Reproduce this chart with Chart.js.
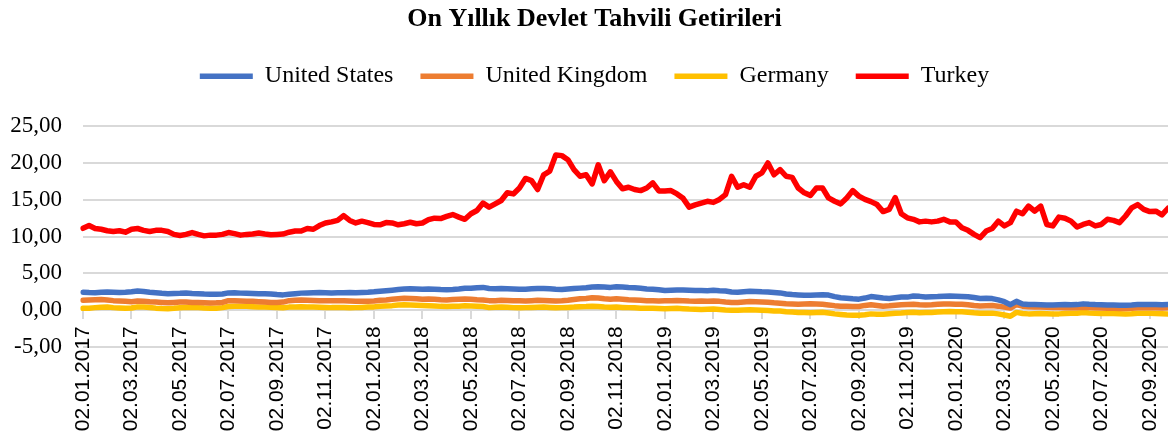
<!DOCTYPE html>
<html>
<head>
<meta charset="utf-8">
<script src="https://cdn.jsdelivr.net/npm/chart.js@4/dist/chart.umd.min.js"></script>
<style>
  body { margin: 0; background: #fff; }
  #wrap { width: 1168px; height: 439px; }
</style>
</head>
<body>
<div id="wrap"><canvas id="yields"></canvas></div>
<script>
// sample dates: 4 per month, Jan 2017 - Sep 2020
const years = ['2017', '2018', '2019', '2020'];
const months = ['01','02','03','04','05','06','07','08','09','10','11','12'];
const days = ['02', '09', '16', '23'];

const tickLabels = [
  '02.01.2017','02.03.2017','02.05.2017','02.07.2017','02.09.2017','02.11.2017',
  '02.01.2018','02.03.2018','02.05.2018','02.07.2018','02.09.2018','02.11.2018',
  '02.01.2019','02.03.2019','02.05.2019','02.07.2019','02.09.2019','02.11.2019',
  '02.01.2020','02.03.2020','02.05.2020','02.07.2020','02.09.2020'
];

const unitedStates = [
  2.45,2.40,2.38,2.45, 2.48,2.45,2.42,2.45, 2.50,2.60,2.55,2.45, 2.38,2.30,2.25,2.28,
  2.30,2.35,2.28,2.25, 2.20,2.18,2.18,2.20, 2.35,2.38,2.32,2.30, 2.28,2.25,2.22,2.20,
  2.12,2.08,2.18,2.25, 2.32,2.35,2.38,2.40, 2.38,2.35,2.36,2.38, 2.40,2.38,2.42,2.45,
  2.50,2.58,2.65,2.72, 2.80,2.88,2.90,2.88, 2.86,2.88,2.85,2.80, 2.78,2.82,2.88,2.98,
  2.98,3.05,3.10,2.95, 2.92,2.95,2.92,2.88, 2.85,2.86,2.90,2.95, 2.95,2.90,2.85,2.82,
  2.88,2.95,3.00,3.05, 3.15,3.18,3.15,3.10, 3.18,3.15,3.08,3.05, 2.98,2.88,2.85,2.78,
  2.68,2.72,2.75,2.75, 2.72,2.68,2.68,2.65, 2.72,2.65,2.60,2.48, 2.45,2.52,2.58,2.55,
  2.50,2.48,2.42,2.35, 2.20,2.12,2.08,2.02, 2.02,2.08,2.10,2.05, 1.85,1.70,1.62,1.55,
  1.50,1.65,1.85,1.75, 1.65,1.60,1.70,1.80, 1.78,1.92,1.88,1.80, 1.82,1.85,1.90,1.92,
  1.88,1.85,1.82,1.72, 1.60,1.62,1.58,1.40, 1.15,0.75,1.20,0.85, 0.78,0.76,0.74,0.72,
  0.72,0.74,0.76,0.74, 0.76,0.86,0.80,0.76, 0.74,0.72,0.70,0.68, 0.66,0.70,0.76,0.78,
  0.76,0.76,0.74,0.76
];

const unitedKingdom = [
  1.35,1.38,1.42,1.45, 1.40,1.30,1.25,1.20, 1.15,1.25,1.22,1.15, 1.10,1.05,1.00,1.05,
  1.10,1.12,1.05,1.05, 1.02,0.98,1.00,1.05, 1.30,1.28,1.25,1.22, 1.20,1.15,1.10,1.05,
  1.05,1.10,1.30,1.35, 1.38,1.35,1.32,1.30, 1.30,1.28,1.30,1.28, 1.25,1.22,1.20,1.22,
  1.25,1.35,1.40,1.48, 1.55,1.62,1.60,1.55, 1.50,1.52,1.48,1.42, 1.40,1.45,1.48,1.52,
  1.48,1.42,1.40,1.30, 1.30,1.35,1.32,1.30, 1.28,1.25,1.30,1.35, 1.32,1.28,1.25,1.28,
  1.35,1.45,1.55,1.60, 1.70,1.65,1.55,1.50, 1.55,1.50,1.42,1.38, 1.35,1.30,1.28,1.25,
  1.28,1.30,1.32,1.30, 1.25,1.22,1.25,1.22, 1.25,1.20,1.10,1.05, 1.05,1.12,1.18,1.15,
  1.12,1.08,1.00,0.95, 0.88,0.85,0.82,0.85, 0.88,0.85,0.80,0.72, 0.62,0.55,0.52,0.50,
  0.50,0.65,0.75,0.65, 0.55,0.60,0.68,0.75, 0.78,0.80,0.75,0.72, 0.75,0.80,0.85,0.85,
  0.82,0.80,0.75,0.65, 0.58,0.62,0.65,0.55, 0.42,0.30,0.75,0.55, 0.48,0.45,0.42,0.40,
  0.38,0.36,0.34,0.32, 0.32,0.40,0.35,0.32, 0.30,0.28,0.26,0.24, 0.22,0.26,0.34,0.36,
  0.34,0.32,0.30,0.32
];

const germany = [
  0.25,0.28,0.35,0.40, 0.42,0.35,0.30,0.25, 0.30,0.45,0.42,0.38, 0.28,0.22,0.20,0.25,
  0.32,0.40,0.38,0.35, 0.30,0.28,0.28,0.35, 0.50,0.55,0.55,0.52, 0.48,0.45,0.42,0.40,
  0.35,0.32,0.42,0.45, 0.48,0.45,0.42,0.40, 0.38,0.35,0.37,0.36, 0.32,0.35,0.38,0.42,
  0.45,0.55,0.58,0.62, 0.72,0.75,0.72,0.68, 0.65,0.62,0.58,0.52, 0.50,0.52,0.55,0.60,
  0.58,0.55,0.50,0.35, 0.40,0.45,0.40,0.35, 0.32,0.35,0.38,0.40, 0.42,0.38,0.32,0.35,
  0.38,0.42,0.48,0.50, 0.55,0.50,0.42,0.40, 0.42,0.38,0.35,0.32, 0.28,0.25,0.25,0.22,
  0.20,0.22,0.25,0.20, 0.15,0.12,0.10,0.12, 0.15,0.08,0.02,-0.02, -0.02,0.02,0.05,0.02,
  0.00,-0.05,-0.10,-0.12, -0.22,-0.25,-0.30,-0.32, -0.35,-0.30,-0.28,-0.38, -0.50,-0.58,-0.65,-0.68,
  -0.68,-0.62,-0.50,-0.55, -0.55,-0.48,-0.40,-0.38, -0.30,-0.28,-0.35,-0.32, -0.30,-0.25,-0.22,-0.18,
  -0.20,-0.22,-0.28,-0.35, -0.40,-0.42,-0.40,-0.50, -0.65,-0.82,-0.30,-0.45, -0.50,-0.48,-0.45,-0.48,
  -0.52,-0.50,-0.45,-0.42, -0.40,-0.32,-0.38,-0.42, -0.45,-0.45,-0.45,-0.48, -0.50,-0.48,-0.42,-0.40,
  -0.42,-0.45,-0.48,-0.50
];

const turkey = [
  11.13,11.50,11.10,11.00, 10.80,10.70,10.80,10.60, 11.00,11.10,10.85,10.70, 10.85,10.85,10.70,10.30,
  10.15,10.30,10.55,10.30, 10.10,10.20,10.20,10.30, 10.55,10.40,10.20,10.30, 10.35,10.50,10.35,10.25,
  10.30,10.35,10.60,10.75, 10.75,11.10,11.00,11.50, 11.85,12.00,12.20,12.85, 12.20,11.85,12.10,11.90,
  11.65,11.60,11.90,11.85, 11.60,11.75,11.95,11.75, 11.85,12.30,12.50,12.45, 12.75,13.00,12.65,12.35,
  13.10,13.55,14.55,14.00, 14.45,14.90,15.95,15.80, 16.60,17.90,17.60,16.40, 18.40,18.90,21.10,21.00,
  20.45,19.10,18.20,18.40, 17.15,19.75,17.60,18.80, 17.50,16.50,16.70,16.40, 16.25,16.60,17.30,16.20,
  16.20,16.25,15.80,15.20, 14.00,14.30,14.55,14.80, 14.65,15.05,15.70,18.20, 16.70,17.05,16.70,18.20,
  18.65,20.00,18.40,19.10, 18.20,18.05,16.60,15.95, 15.60,16.60,16.60,15.25, 14.80,14.45,15.25,16.25,
  15.50,15.05,14.75,14.35, 13.40,13.70,15.30,13.10, 12.55,12.35,12.00,12.10, 12.00,12.10,12.35,12.00,
  12.00,11.20,10.85,10.30, 9.85,10.75,11.10,12.10, 11.45,11.90,13.45,13.10, 14.15,13.45,14.15,11.65,
  11.45,12.65,12.50,12.10, 11.30,11.65,11.90,11.45, 11.65,12.35,12.20,11.90, 12.80,13.90,14.35,13.70,
  13.40,13.45,12.95,13.85
];

const categories = [];
years.forEach(y => months.forEach(m => days.forEach(d => categories.push(d + '.' + m + '.' + y))));
categories.length = turkey.length; // data stops in late Sep 2020

function keepLabelTicks(scale) {
  scale.ticks = scale.ticks.filter(t => tickLabels.includes(categories[t.value]));
}

// extra room under the legend, and title/legend nudged right like the original
const legendGap = {
  id: 'legendGap',
  beforeInit(chart) {
    const fit = chart.legend.fit;
    chart.legend.fit = function () {
      fit.bind(chart.legend)();
      this.height += 28;
    };
  },
  afterLayout(chart) {
    chart.titleBlock.left += 18;
    chart.legend.left += 18;
  }
};

const serif = 'Liberation Serif';

const data = {
  labels: categories,
  datasets: [
    { label: 'United States', data: unitedStates, borderColor: '#4472C4', backgroundColor: '#4472C4' },
    { label: 'United Kingdom', data: unitedKingdom, borderColor: '#ED7D31', backgroundColor: '#ED7D31' },
    { label: 'Germany', data: germany, borderColor: '#FFC000', backgroundColor: '#FFC000' },
    { label: 'Turkey', data: turkey, borderColor: '#FF0000', backgroundColor: '#FF0000' }
  ].map(ds => Object.assign(ds, {
    borderWidth: 5.5,
    pointRadius: 0,
    tension: 0,
    borderJoinStyle: 'round',
    borderCapStyle: 'round',
    fill: false
  }))
};

const config = {
  type: 'line',
  data: data,
  plugins: [legendGap],
  options: {
    responsive: true,
    maintainAspectRatio: false,
    animation: false,
    layout: { padding: { left: 3, right: 0, top: 0, bottom: 92 } },
    plugins: {
      title: {
        display: true,
        text: 'On Yıllık Devlet Tahvili Getirileri',
        color: '#000',
        font: { family: serif, size: 26, weight: 'bold' },
        padding: { top: 4, bottom: 2 }
      },
      legend: {
        display: true,
        labels: {
          color: '#000',
          font: { family: serif, size: 24 },
          usePointStyle: true,
          pointStyle: 'line',
          pointStyleWidth: 53,
          padding: 27
        }
      },
      tooltip: { enabled: false }
    },
    scales: {
      // category axis crosses at 0, labels hang below it
      x: {
        type: 'category',
        axis: 'x',
        position: { y: 0 },
        afterBuildTicks: keepLabelTicks,
        afterFit(scale) {
          scale.paddingLeft = 0;
          scale.paddingRight = 0;
        },
        grid: { drawOnChartArea: false, drawTicks: true, tickLength: 8, color: '#d9d9d9', lineWidth: 2 },
        border: { display: true, color: '#d9d9d9', width: 2 },
        ticks: {
          autoSkip: false,
          maxRotation: 90,
          minRotation: 90,
          padding: 8,
          color: '#000',
          font: { family: 'Liberation Sans', size: 21 }
        }
      },
      y: {
        min: -5,
        max: 25,
        grid: { color: '#d9d9d9', lineWidth: 2, drawTicks: false },
        border: { display: false },
        afterFit(scale) {
          scale.width = 80;
        },
        ticks: {
          stepSize: 5,
          padding: 21,
          color: '#000',
          font: { family: serif, size: 23 },
          callback: v => v.toFixed(2).replace('.', ',')
        }
      }
    }
  }
};

const myChart = new Chart(document.getElementById('yields'), config);
</script>
</body>
</html>
